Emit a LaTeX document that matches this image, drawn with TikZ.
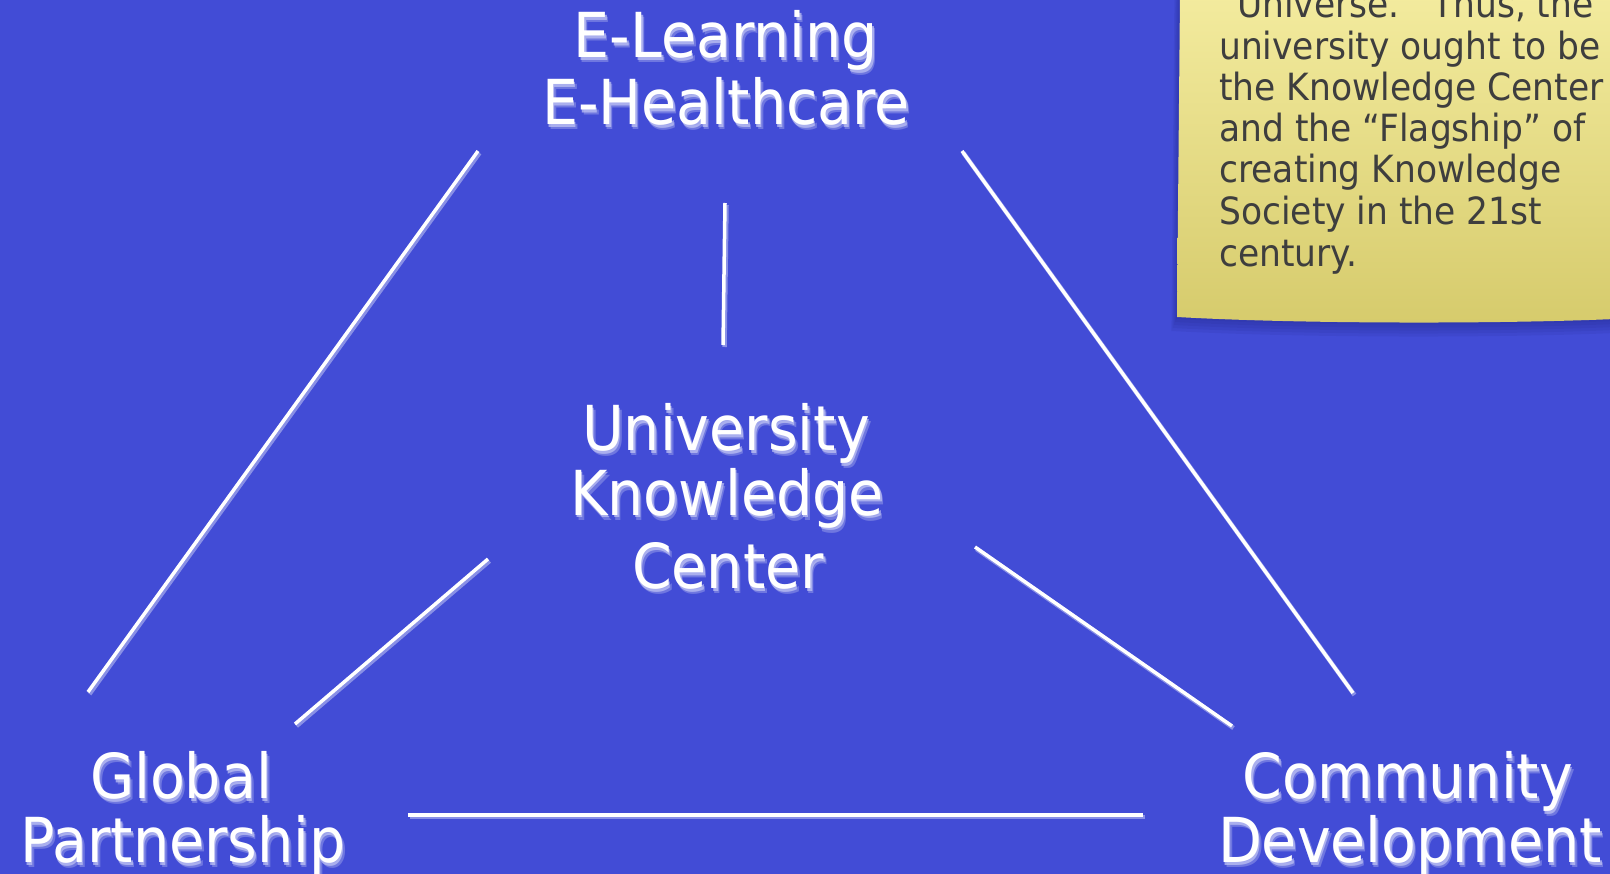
\documentclass[tikz,border=0pt]{standalone}
\usepackage{fontspec}
\setmainfont{DejaVu Sans}[FakeStretch=0.92]

\definecolor{bgblue}{RGB}{66,76,214}
\definecolor{glow}{RGB}{196,200,244}
\definecolor{noteTop}{RGB}{243,235,158}
\definecolor{noteBot}{RGB}{214,203,108}
\definecolor{noteInk}{RGB}{62,62,62}
\definecolor{noteShade}{RGB}{30,36,130}

\tikzset{
  big/.style={font=\fontsize{62}{64}\selectfont, text=white, anchor=base, inner sep=0pt},
  bigglow/.style={big, text=glow},
  notetext/.style={font=\fontsize{37.5}{41}\selectfont, text=noteInk, anchor=base west, inner sep=0pt},
  link/.style={draw=white, line width=3.5pt},
  linkglow/.style={draw=glow, line width=4.5pt, opacity=0.55},
}

% white caption with a soft lavender shadow beneath it
\newcommand{\glowlabel}[3]{%
  \node[bigglow, opacity=0.35, xshift=3pt, yshift=-5pt] (#1-glowb) at (#2) {#3};
  \node[bigglow, opacity=0.7, xshift=1.5pt, yshift=-3pt] (#1-glow) at (#2) {#3};
  \node[big] (#1) at (#2) {#3};}
% white connector with its shadow
\newcommand{\linkline}[2]{%
  \draw[linkglow, transform canvas={xshift=1.5pt, yshift=-2pt}] (#1) -- (#2);
  \draw[link] (#1) -- (#2);}

\begin{document}
\begin{tikzpicture}[x=1pt, y=-1pt]
  \useasboundingbox (0,0) rectangle (1610,874);
  \clip (0,0) rectangle (1610,874);
  \fill[bgblue] (0,0) rectangle (1610,874);

  % sticky note: shadow, then paper
  \foreach \d in {2,5,8,11,14}{
    \fill[noteShade, opacity=0.1]
      (1180-\d*0.4,-5) -- (1177-\d*0.4,317+\d) .. controls (1300,324+\d) and (1500,324+\d) .. (1615,319+\d) -- (1615,-5) -- cycle;
  }
  \shade[top color=noteTop, bottom color=noteBot]
    (1180,-5) -- (1177,317) .. controls (1300,324) and (1500,324) .. (1615,319) -- (1615,-5) -- cycle;

  \node[notetext] (n1) at (1219,18)  {“Universe.” Thus, the};
  \node[notetext] (n2) at (1219,60)  {university ought to be};
  \node[notetext] (n3) at (1219,101) {the Knowledge Center};
  \node[notetext] (n4) at (1219,142) {and the “Flagship” of};
  \node[notetext] (n5) at (1219,183) {creating Knowledge};
  \node[notetext] (n6) at (1219,225) {Society in the 21st};
  \node[notetext] (n7) at (1219,267) {century.};

  % captions
  \glowlabel{el}{726,58}{E-Learning}
  \glowlabel{eh}{726,125}{E-Healthcare}
  \glowlabel{uni}{726,451}{University}
  \glowlabel{kno}{727,515}{Knowledge}
  \glowlabel{cen}{728,588}{Center}
  \glowlabel{glo}{181,798}{Global}
  \glowlabel{par}{183,862}{Partnership}
  \glowlabel{com}{1408,798}{Community}
  \glowlabel{dev}{1410,862}{Development}

  % connector ends
  \coordinate (a1) at (478,151);  \coordinate (a2) at (88,692);
  \coordinate (b1) at (725,203);  \coordinate (b2) at (723,345);
  \coordinate (c1) at (962,151);  \coordinate (c2) at (1353,693);
  \coordinate (d1) at (488,559);  \coordinate (d2) at (295,724);
  \coordinate (e1) at (975,547);  \coordinate (e2) at (1232,726);
  \coordinate (f1) at (408,815);  \coordinate (f2) at (1143,815);

  \linkline{a1}{a2}
  \linkline{b1}{b2}
  \linkline{c1}{c2}
  \linkline{d1}{d2}
  \linkline{e1}{e2}
  \linkline{f1}{f2}
\end{tikzpicture}
\end{document}
